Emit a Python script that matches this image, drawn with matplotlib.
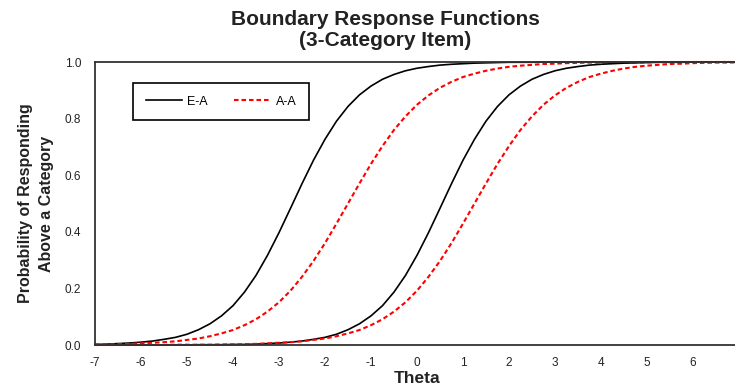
import matplotlib
matplotlib.use("Agg")
import matplotlib.pyplot as plt
from matplotlib.ticker import FormatStrFormatter

plt.rcParams["font.family"] = ["Liberation Sans", "DejaVu Sans"]
plt.rcParams["axes.unicode_minus"] = False

# theta grid (step 0.25)
theta = [-7.0, -6.75, -6.5, -6.25, -6.0, -5.75, -5.5, -5.25, -5.0, -4.75,
         -4.5, -4.25, -4.0, -3.75, -3.5, -3.25, -3.0, -2.75, -2.5, -2.25,
         -2.0, -1.75, -1.5, -1.25, -1.0, -0.75, -0.5, -0.25, 0.0, 0.25,
         0.5, 0.75, 1.0, 1.25, 1.5, 1.75, 2.0, 2.25, 2.5, 2.75,
         3.0, 3.25, 3.5, 3.75, 4.0, 4.25, 4.5, 4.75, 5.0, 5.25,
         5.5, 5.75, 6.0, 6.25, 6.5, 6.75, 7.0]

# E-A boundaries (black)
ea_b1 = [0.002, 0.003, 0.005, 0.007, 0.010, 0.014, 0.020, 0.027, 0.038, 0.054,
         0.075, 0.103, 0.139, 0.187, 0.246, 0.317, 0.397, 0.483, 0.570, 0.653,
         0.727, 0.791, 0.843, 0.884, 0.915, 0.939, 0.956, 0.969, 0.978, 0.984,
         0.989, 0.992, 0.994, 0.996, 0.997, 0.998, 0.999, 0.999, 0.999, 1.000,
         1.000, 1.000, 1.000, 1.000, 1.000, 1.000, 1.000, 1.000, 1.000, 1.000,
         1.000, 1.000, 1.000, 1.000, 1.000, 1.000, 1.000]
ea_b2 = [0.000, 0.000, 0.000, 0.000, 0.000, 0.000, 0.000, 0.000, 0.000, 0.001,
         0.001, 0.001, 0.002, 0.002, 0.003, 0.005, 0.007, 0.010, 0.014, 0.020,
         0.027, 0.038, 0.054, 0.075, 0.103, 0.139, 0.187, 0.246, 0.317, 0.397,
         0.483, 0.570, 0.653, 0.727, 0.791, 0.843, 0.884, 0.915, 0.939, 0.956,
         0.969, 0.978, 0.984, 0.989, 0.992, 0.994, 0.996, 0.997, 0.998, 0.999,
         0.999, 0.999, 1.000, 1.000, 1.000, 1.000, 1.000]

# A-A boundaries (red, dashed)
aa_b1 = [0.002, 0.002, 0.003, 0.004, 0.006, 0.008, 0.010, 0.013, 0.018, 0.023,
         0.031, 0.041, 0.053, 0.070, 0.091, 0.118, 0.151, 0.192, 0.241, 0.297,
         0.360, 0.429, 0.500, 0.571, 0.640, 0.703, 0.760, 0.808, 0.849, 0.882,
         0.909, 0.930, 0.947, 0.959, 0.969, 0.977, 0.983, 0.987, 0.990, 0.993,
         0.994, 0.996, 0.997, 0.998, 0.998, 0.999, 0.999, 0.999, 0.999, 1.000,
         1.000, 1.000, 1.000, 1.000, 1.000, 1.000, 1.000]
aa_b2 = [0.000, 0.000, 0.000, 0.000, 0.000, 0.000, 0.000, 0.001, 0.001, 0.001,
         0.001, 0.002, 0.002, 0.003, 0.004, 0.006, 0.008, 0.010, 0.013, 0.018,
         0.023, 0.031, 0.041, 0.053, 0.070, 0.091, 0.118, 0.151, 0.192, 0.241,
         0.297, 0.360, 0.429, 0.500, 0.571, 0.640, 0.703, 0.760, 0.808, 0.849,
         0.882, 0.909, 0.930, 0.947, 0.959, 0.969, 0.977, 0.983, 0.987, 0.990,
         0.993, 0.994, 0.996, 0.997, 0.998, 0.998, 0.999]

x_ticks = [-7, -6, -5, -4, -3, -2, -1, 0, 1, 2, 3, 4, 5, 6]
y_ticks = [0.0, 0.2, 0.4, 0.6, 0.8, 1.0]

fig = plt.figure(figsize=(7.35, 3.88), dpi=100)
ax = fig.add_axes([95 / 735, 43 / 388, 644 / 735, 283 / 388])

red_dash = (0, (2.2, 1.4))
ax.plot(theta, ea_b1, color="black", lw=1.2, label="E-A", clip_on=False)
ax.plot(theta, aa_b1, color="red", lw=1.5, ls=red_dash, label="A-A", clip_on=False)
ax.plot(theta, ea_b2, color="black", lw=1.2, clip_on=False)
ax.plot(theta, aa_b2, color="red", lw=1.5, ls=red_dash, clip_on=False)

ax.set_xlim(-7, 7)
ax.set_ylim(0, 1)
ax.set_xticks(x_ticks)
ax.set_yticks(y_ticks)
ax.yaxis.set_major_formatter(FormatStrFormatter("%.1f"))
ax.tick_params(length=0, labelsize=8.5, pad=10, colors="#222")
ax.tick_params(axis="x", pad=9)
for s in ax.spines.values():
    s.set_color("#333")
    s.set_linewidth(1.3)

ax.set_xlabel("Theta", fontsize=12.5, fontweight="bold", labelpad=1, color="#222")
ax.set_ylabel("Probability of Responding\nAbove a Category", fontsize=11.5,
              fontweight="bold", color="#222", linespacing=1.45)
ax.yaxis.set_label_coords(-0.064, 0.5)

fig.text(0.524, 0.923, "Boundary Response Functions\n(3-Category Item)",
         ha="center", va="center", fontsize=15, fontweight="bold",
         color="#222", linespacing=1.15)

leg = ax.legend(loc="upper left", bbox_to_anchor=(38 / 644, 1 - 21 / 283),
                ncol=2, fontsize=9, handlelength=2.9, columnspacing=2.1,
                fancybox=False, edgecolor="black", framealpha=1,
                borderpad=1.0, handletextpad=0.45, borderaxespad=0)
leg.get_frame().set_linewidth(1.2)

fig.savefig("out.png", dpi=100)
